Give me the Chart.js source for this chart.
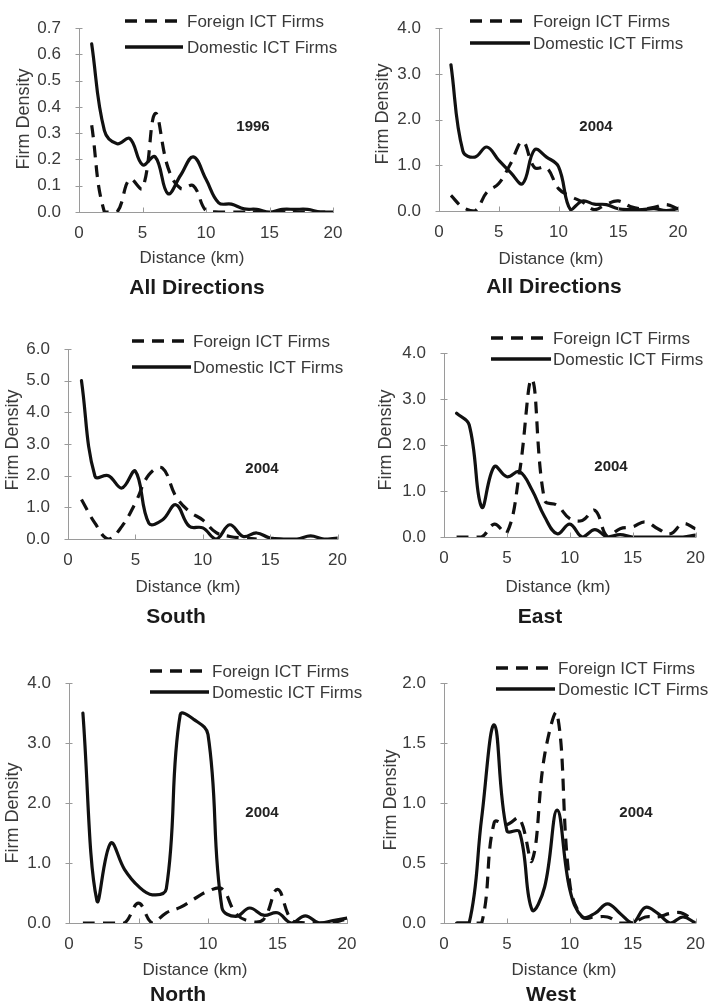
<!DOCTYPE html>
<html>
<head>
<meta charset="utf-8">
<script src="https://cdn.jsdelivr.net/npm/chart.js@4.4.1/dist/chart.umd.min.js"></script>
<style>
html,body{margin:0;padding:0;background:#fff;}
body{width:716px;height:1006px;position:relative;overflow:hidden;}
canvas{position:absolute;}
</style>
</head>
<body>
<script>
// ---------- DATA ----------
const DIST = [1,2,3,4,5,6,7,8,9,10,11,12,13,14,15,16,17,18,19,20];
const X_TICKS = [0,5,10,15,20];
const LEGEND_LABELS = ['Foreign ICT Firms','Domestic ICT Firms'];
const PANEL_TITLES = ['All Directions','All Directions','South','East','North','West'];
const YEAR_LABELS = ['1996','2004','2004','2004','2004','2004'];
const X_TITLE = 'Distance (km)';
const Y_TITLE = 'Firm Density';

const FOREIGN_ALL_1996  = [0.33,0.0,0.0,0.125,0.09,0.375,0.17,0.09,0.1,0.005,0,0,0,0,0,0,0,0,0,0];
const DOMESTIC_ALL_1996 = [0.64,0.31,0.26,0.28,0.18,0.21,0.07,0.14,0.21,0.125,0.035,0.03,0.012,0.01,0.0,0.01,0.01,0.01,0.0,0.0];
const Y_TICKS_ALL_1996  = [0,0.1,0.2,0.3,0.4,0.5,0.6,0.7];

const FOREIGN_ALL_2004  = [0.34,0.08,0.0,0.41,0.6,1.04,1.52,0.95,0.95,0.49,0.32,0.2,0.03,0.15,0.22,0.1,0.05,0.08,0.14,0.05];
const DOMESTIC_ALL_2004 = [3.2,1.31,1.18,1.4,1.11,0.84,0.6,1.34,1.18,0.97,0.03,0.22,0.15,0.14,0.05,0.03,0.03,0.05,0.01,0.05];
const Y_TICKS_ALL_2004  = [0,1,2,3,4];

const FOREIGN_SOUTH  = [1.25,0.5,0.0,0.4,1.14,2.03,2.24,1.35,0.87,0.6,0.2,0.08,0.03,0.0,null,null,null,null,null,null];
const DOMESTIC_SOUTH = [5.0,1.98,2.0,1.61,2.14,0.5,0.6,1.08,0.4,0.35,0.0,0.45,0.08,0.19,0.03,0.0,0.0,0.1,0.0,0.03];
const Y_TICKS_SOUTH  = [0,1,2,3,4,5,6];

const FOREIGN_EAST  = [0,0,0,0.28,0.09,1.4,3.43,0.8,0.69,0.4,0.36,0.58,0.01,0.18,0.22,0.33,0.18,0.07,0.29,0.18];
const DOMESTIC_EAST = [2.69,2.44,0.65,1.53,1.31,1.42,1.02,0.44,0.07,0.28,0.0,0.16,0.0,0.05,0.0,0.0,0.0,0.0,0.0,0.04];
const Y_TICKS_EAST  = [0,1,2,3,4];

const FOREIGN_NORTH  = [0,0,0,0,0.33,0,0.17,0.26,0.4,0.53,0.57,0.16,0.03,0.06,0.56,0.05,0,0,0.01,0.07];
const DOMESTIC_NORTH = [3.5,0.38,1.33,0.89,0.61,0.47,0.57,3.47,3.39,3.14,0.26,0.11,0.25,0.13,0.17,0.0,0.12,0.0,0.04,0.08];
const Y_TICKS_NORTH  = [0,1,2,3,4];

const FOREIGN_WEST  = [0,0,0,0.84,0.82,0.87,0.52,1.4,1.74,0.33,0.05,0.05,0.05,0,0,0.05,0.05,0.08,0.08,0];
const DOMESTIC_WEST = [0,0,0.88,1.65,0.77,0.76,0.11,0.3,0.94,0.28,0.05,0.08,0.16,0.08,0,0.13,0.08,0,0.05,0];
const Y_TICKS_WEST  = [0,0.5,1,1.5,2];

// ---------- LAYOUT (pixel positions only) ----------
const LAYOUT = [
  {left:0,   top:0,   w:358, h:312, l:79, r:333, t:16, b:212, yT:[24,119], xT:[192,258], pT:[197,288], lg:[125,183,187,21,47], yr:[253,127]},
  {left:358, top:0,   w:358, h:312, l:81, r:320, t:16, b:211, yT:[25,114], xT:[193,259], pT:[196,287], lg:[112,172,175,21,43], yr:[238,127]},
  {left:0,   top:320, w:358, h:330, l:68, r:338, t:29, b:219, yT:[13,120], xT:[188,267], pT:[176,297], lg:[132,191,193,21,47], yr:[262,149]},
  {left:358, top:320, w:358, h:330, l:86, r:338, t:33, b:217, yT:[28,120], xT:[200,267], pT:[182,297], lg:[133,193,195,18,39], yr:[253,147]},
  {left:0,   top:650, w:372, h:356, l:69, r:347, t:33, b:273, yT:[13,163], xT:[195,320], pT:[178,345], lg:[150,209,212,21,42], yr:[262,163]},
  {left:358, top:650, w:358, h:356, l:86, r:345, t:33, b:273, yT:[33,150], xT:[206,320], pT:[193,345], lg:[138,197,200,18,39], yr:[278,163]}
];

const SERIES = [
  [FOREIGN_ALL_1996, DOMESTIC_ALL_1996, Y_TICKS_ALL_1996],
  [FOREIGN_ALL_2004, DOMESTIC_ALL_2004, Y_TICKS_ALL_2004],
  [FOREIGN_SOUTH, DOMESTIC_SOUTH, Y_TICKS_SOUTH],
  [FOREIGN_EAST, DOMESTIC_EAST, Y_TICKS_EAST],
  [FOREIGN_NORTH, DOMESTIC_NORTH, Y_TICKS_NORTH],
  [FOREIGN_WEST, DOMESTIC_WEST, Y_TICKS_WEST]
];

const FONT = '"Liberation Sans", Arial, Helvetica, sans-serif';
const AXIS_COLOR = '#9a9a9a';
const LINE_COLOR = '#111111';
const TEXT_COLOR = '#3a3a3a';

const decor = {
  id: 'decor',
  afterDraw(chart, args, o) {
    const ctx = chart.ctx;
    const xs = chart.scales.x, ys = chart.scales.y;
    const axX = Math.round(xs.left) + 0.5;
    const axY = Math.round(ys.bottom) + 0.5;
    ctx.save();
    ctx.setLineDash([]);
    ctx.strokeStyle = AXIS_COLOR;
    ctx.lineWidth = 1;
    ctx.beginPath();
    ys.ticks.forEach(t => {
      const py = Math.round(ys.getPixelForValue(t.value)) + 0.5;
      ctx.moveTo(axX - 4, py); ctx.lineTo(axX + 3, py);
    });
    xs.ticks.forEach(t => {
      const px = Math.round(xs.getPixelForValue(t.value)) + 0.5;
      ctx.moveTo(px, axY); ctx.lineTo(px, axY - 5);
    });
    ctx.stroke();

    // legend
    const [x1, x2, tx, y1, y2] = o.lg;
    chart.data.datasets.forEach((ds, i) => {
      const y = i === 0 ? y1 : y2;
      ctx.beginPath();
      ctx.setLineDash(ds.borderDash || []);
      ctx.strokeStyle = LINE_COLOR;
      ctx.lineWidth = 3.5;
      ctx.moveTo(x1, y); ctx.lineTo(x2, y);
      ctx.stroke();
      ctx.setLineDash([]);
      ctx.fillStyle = TEXT_COLOR;
      ctx.font = '17px ' + FONT;
      ctx.textAlign = 'left';
      ctx.textBaseline = 'middle';
      ctx.fillText(ds.label, tx, y + 1);
    });

    // year label
    ctx.fillStyle = '#222';
    ctx.font = 'bold 15px ' + FONT;
    ctx.textAlign = 'center';
    ctx.textBaseline = 'middle';
    ctx.fillText(o.year, o.yr[0], o.yr[1]);

    // x-axis title
    ctx.fillStyle = TEXT_COLOR;
    ctx.font = '17px ' + FONT;
    ctx.fillText(o.xTitle, o.xT[0], o.xT[1]);

    // panel title
    ctx.fillStyle = '#1a1a1a';
    ctx.font = 'bold 21px ' + FONT;
    ctx.fillText(o.title, o.pT[0], o.pT[1]);

    // y-axis title
    ctx.translate(o.yT[0], o.yT[1]);
    ctx.rotate(-Math.PI / 2);
    ctx.fillStyle = TEXT_COLOR;
    ctx.font = '18px ' + FONT;
    ctx.fillText(o.yTitle, 0, 0);
    ctx.restore();
  }
};

LAYOUT.forEach((L, k) => {
  const [foreign, domestic, yTicks] = SERIES[k];
  const cv = document.createElement('canvas');
  cv.width = L.w; cv.height = L.h;
  cv.style.left = L.left + 'px'; cv.style.top = L.top + 'px';
  cv.style.width = L.w + 'px'; cv.style.height = L.h + 'px';
  document.body.appendChild(cv);

  new Chart(cv, {
    type: 'line',
    data: {
      datasets: [
        {label: LEGEND_LABELS[0], data: DIST.map((d, i) => ({x: d, y: foreign[i]})),
         borderColor: LINE_COLOR, borderWidth: 3.2, borderDash: [12, 8], pointRadius: 0,
         tension: 0.4, fill: false, borderJoinStyle: 'round'},
        {label: LEGEND_LABELS[1], data: DIST.map((d, i) => ({x: d, y: domestic[i]})),
         borderColor: LINE_COLOR, borderWidth: 3.2, pointRadius: 0,
         tension: 0.4, fill: false, borderJoinStyle: 'round', borderCapStyle: 'round'}
      ]
    },
    options: {
      responsive: false, animation: false, devicePixelRatio: 1,
      layout: {padding: {left: 0, top: L.t, right: L.w - L.r, bottom: 0}},
      plugins: {
        legend: {display: false}, tooltip: {enabled: false},
        decor: {lg: L.lg, yr: L.yr, xT: L.xT, pT: L.pT, yT: L.yT,
                year: YEAR_LABELS[k], title: PANEL_TITLES[k], xTitle: X_TITLE, yTitle: Y_TITLE}
      },
      scales: {
        x: {
          type: 'linear', min: X_TICKS[0], max: X_TICKS[X_TICKS.length - 1],
          grid: {display: false, drawTicks: false, tickLength: 0},
          border: {display: true, color: AXIS_COLOR, width: 1},
          ticks: {color: TEXT_COLOR, font: {family: FONT, size: 17}, padding: 11,
                  autoSkip: false, maxRotation: 0, callback: v => String(v)},
          afterBuildTicks: s => { s.ticks = X_TICKS.map(v => ({value: v})); },
          afterFit: s => { s.height = L.h - L.b; }
        },
        y: {
          type: 'linear', min: yTicks[0], max: yTicks[yTicks.length - 1],
          grid: {display: false, drawTicks: false, tickLength: 0},
          border: {display: true, color: AXIS_COLOR, width: 1},
          ticks: {color: TEXT_COLOR, font: {family: FONT, size: 17}, padding: 18,
                  autoSkip: false, callback: v => Number(v).toFixed(1)},
          afterBuildTicks: s => { s.ticks = yTicks.map(v => ({value: v})); },
          afterFit: s => { s.width = L.l; }
        }
      }
    },
    plugins: [decor]
  });
});
</script>
</body>
</html>
